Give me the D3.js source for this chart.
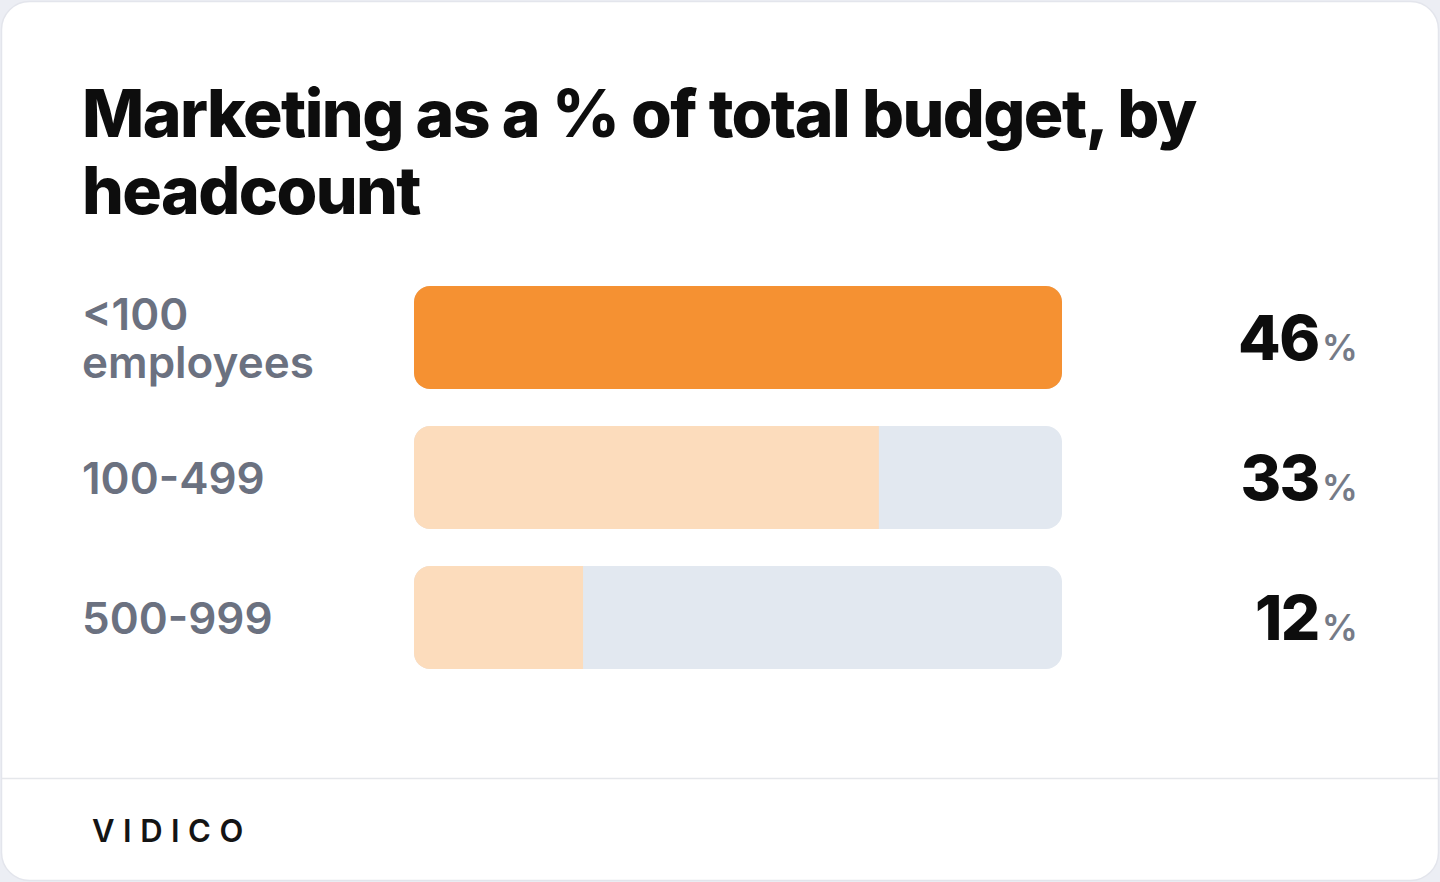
<!DOCTYPE html>
<html>
<head>
<meta charset="utf-8">
<script src="https://cdn.jsdelivr.net/npm/d3@7"></script>
<style>
  html, body { margin: 0; padding: 0; background: #eceef4; }
  svg { display: block; }
</style>
</head>
<body>
<script>
var w = 1440;
var h = 882;

// data
var categories = [["<100", "employees"], ["100-499"], ["500-999"]];
var values = [46, 33, 12];
var title = ["Marketing as a % of total budget, by", "headcount"];

var svg = d3.select("body")
    .append("svg")
    .attr("width", w)
    .attr("height", h);

// card
svg.append("rect")
    .attr("x", 1.5).attr("y", 1.5)
    .attr("width", w - 3).attr("height", h - 3)
    .attr("rx", 28)
    .attr("fill", "#fff")
    .attr("stroke", "#e3e5ec")
    .attr("stroke-width", 1.5);

svg.append("line")
    .attr("x1", 2).attr("x2", w - 2)
    .attr("y1", 778.5).attr("y2", 778.5)
    .attr("stroke", "#e5e7eb")
    .attr("stroke-width", 1.5);

svg.append("text")
    .attr("x", 92).attr("y", 842)
    .attr("font-family", "Inter")
    .attr("font-weight", 600)
    .attr("font-size", 31)
    .attr("letter-spacing", 8.5)
    .attr("fill", "#141414")
    .text("VIDICO");

// title
svg.append("text")
    .attr("font-family", "Inter")
    .attr("font-weight", 800)
    .attr("font-size", 66)
    .attr("letter-spacing", -1.6)
    .attr("fill", "#0d0d0d")
    .selectAll("tspan")
    .data(title)
    .enter()
    .append("tspan")
    .attr("x", 82)
    .attr("y", function(d, i) { return 137 + i * 77; })
    .text(function(d) { return d; });

var xScale = d3.scaleLinear()
    .domain([0, d3.max(values)])
    .range([414, 1062]);

var yScale = d3.scaleBand()
    .domain(d3.range(values.length))
    .range([267.5, 687.5])
    .paddingInner(37 / 140)
    .paddingOuter(37 / 280);

var bh = yScale.bandwidth();
var r = 16;

function leftRounded(x0, x1, y, hh, rr) {
    // rounded left corners; right corners rounded only when bar is full
    var full = x1 >= xScale.range()[1] - 0.5;
    var p = d3.path();
    p.moveTo(x0 + rr, y);
    if (full) {
        p.lineTo(x1 - rr, y);
        p.arcTo(x1, y, x1, y + rr, rr);
        p.lineTo(x1, y + hh - rr);
        p.arcTo(x1, y + hh, x1 - rr, y + hh, rr);
    } else {
        p.lineTo(x1, y);
        p.lineTo(x1, y + hh);
    }
    p.lineTo(x0 + rr, y + hh);
    p.arcTo(x0, y + hh, x0, y + hh - rr, rr);
    p.lineTo(x0, y + rr);
    p.arcTo(x0, y, x0 + rr, y, rr);
    p.closePath();
    return p.toString();
}

var rows = svg.selectAll("g.row")
    .data(values)
    .enter()
    .append("g")
    .attr("class", "row");

rows.append("rect")
    .attr("x", xScale(0))
    .attr("y", function(d, i) { return yScale(i); })
    .attr("width", xScale(d3.max(values)) - xScale(0))
    .attr("height", bh)
    .attr("rx", r)
    .attr("fill", "#e2e8f0");

rows.append("path")
    .attr("d", function(d, i) { return leftRounded(xScale(0), xScale(d), yScale(i), bh, r); })
    .attr("fill", function(d, i) { return i === 0 ? "#f59132" : "#fcdcbc"; });

// labels
rows.append("text")
    .attr("font-family", "Inter")
    .attr("font-weight", 600)
    .attr("font-size", 44)
    .attr("letter-spacing", 0)
    .attr("fill", "#6b7180")
    .each(function(d, i) {
        var lines = categories[i];
        var cy = yScale(i) + bh / 2;
        var y0 = cy + 16 - (lines.length - 1) * 24;
        d3.select(this).selectAll("tspan")
            .data(lines)
            .enter()
            .append("tspan")
            .attr("x", 82)
            .attr("y", function(l, j) { return y0 + j * 48; })
            .text(function(l) { return l; });
    });

// values
var vt = rows.append("text")
    .attr("x", 1358)
    .attr("y", function(d, i) { return yScale(i) + bh / 2 + 22; })
    .attr("text-anchor", "end")
    .attr("font-family", "Inter");

vt.append("tspan")
    .attr("font-weight", 800)
    .attr("font-size", 62)
    .attr("letter-spacing", -1.5)
    .attr("fill", "#0d0d0d")
    .text(function(d) { return d; });

vt.append("tspan")
    .attr("font-weight", 600)
    .attr("font-size", 36)
    .attr("fill", "#767b87")
    .attr("dx", 3)
    .text("%");
</script>
</body>
</html>
